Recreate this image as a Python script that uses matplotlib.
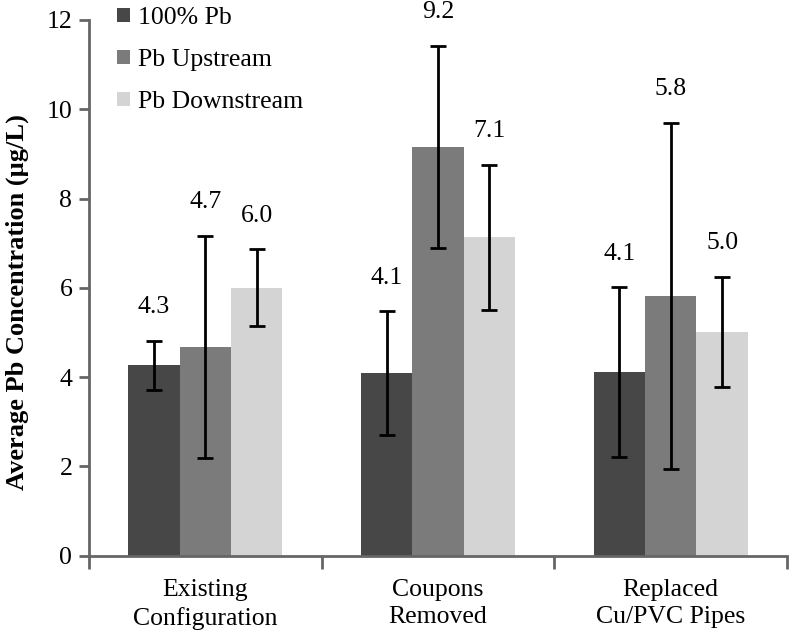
import matplotlib.pyplot as plt
import numpy as np

plt.rcParams['font.family'] = ['Liberation Serif', 'DejaVu Serif']

# data
categories = ['Existing\nConfiguration', 'Coupons\nRemoved', 'Replaced\nCu/PVC Pipes']
series = ['100% Pb', 'Pb Upstream', 'Pb Downstream']
pb100 = [4.27, 4.09, 4.11]
pb_up = [4.68, 9.16, 5.82]
pb_down = [6.00, 7.13, 5.01]
err100 = [0.55, 1.39, 1.90]
err_up = [2.49, 2.26, 3.88]
err_down = [0.86, 1.63, 1.24]
labels100 = ['4.3', '4.1', '4.1']
labels_up = ['4.7', '9.2', '5.8']
labels_down = ['6.0', '7.1', '5.0']
colors = ['#474747', '#7b7b7b', '#d4d4d4']

fs = 18.5

fig = plt.figure(figsize=(7.92, 6.38), dpi=100)
ax = fig.add_axes([0.1124, 0.129, 0.8813, 0.8397])

x = np.arange(len(categories))
w = 0.221
for i, (vals, errs, labs) in enumerate(zip([pb100, pb_up, pb_down],
                                           [err100, err_up, err_down],
                                           [labels100, labels_up, labels_down])):
    xs = x + (i - 1) * w
    ax.bar(xs, vals, w, color=colors[i], label=series[i], zorder=2)
    ax.errorbar(xs, vals, yerr=errs, fmt='none', ecolor='black', elinewidth=2,
                capsize=5.5, capthick=2, zorder=3)
    for xi, v, e, t in zip(xs, vals, errs, labs):
        ax.text(xi, v + e + 0.75, t, ha='center', va='center', fontsize=fs,
                clip_on=False)

ax.set_xlim(-0.5, 2.5)
ax.set_ylim(0, 12)
ax.set_yticks(range(0, 13, 2))
ax.set_xticks(x)
ax.set_xticklabels(categories, fontsize=fs, linespacing=1.3)
ax.set_xticks([-0.5, 0.5, 1.5, 2.5], minor=True)
ax.tick_params(axis='x', which='major', length=0, pad=17)
ax.tick_params(axis='x', which='minor', length=9, width=2, color='#666666')
ax.tick_params(axis='y', length=7, width=2, color='#666666', labelsize=fs, pad=5)
for s in ['top', 'right']:
    ax.spines[s].set_visible(False)
for s in ['left', 'bottom']:
    ax.spines[s].set_color('#666666')
    ax.spines[s].set_linewidth(2)

ax.set_ylabel('Average Pb Concentration (µg/L)', fontsize=19, fontweight='bold')
ax.yaxis.set_label_coords(-0.086, 0.474)
ax.legend(loc='upper left', bbox_to_anchor=(0.026, 1.043), frameon=False, fontsize=fs,
          handlelength=0.5, handleheight=0.5, handletextpad=0.3, labelspacing=0.78,
          borderaxespad=0)

plt.savefig('out.png', dpi=100)
